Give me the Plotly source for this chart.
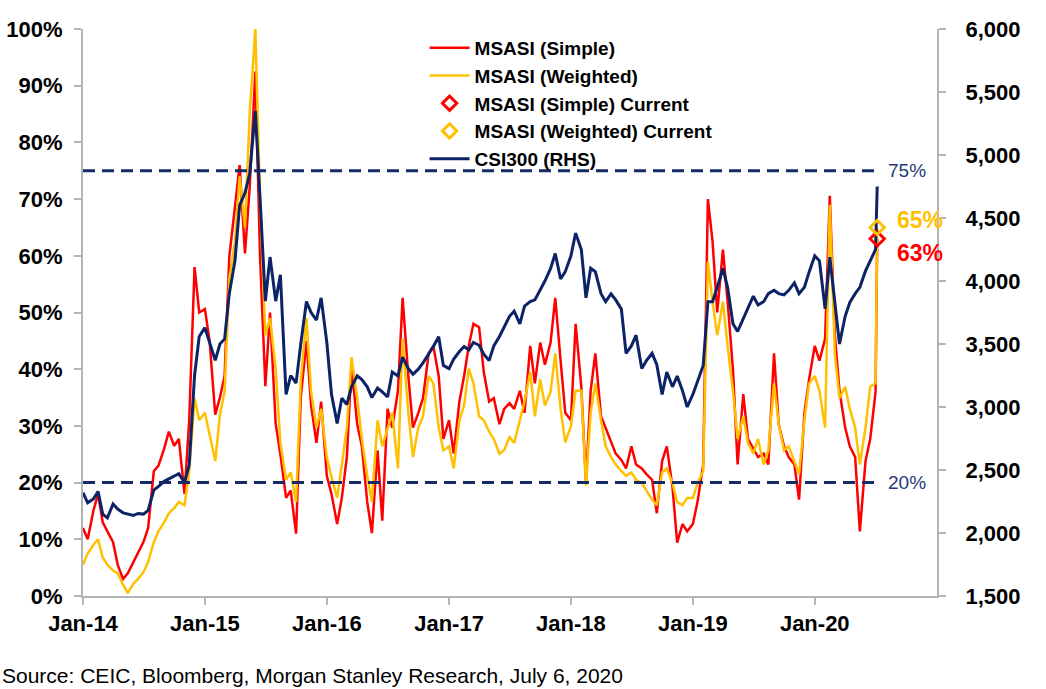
import pandas as pd
import plotly.graph_objects as go

# ---------------- data ----------------
# semi-monthly observations (1st & 15th) from Jan-2014 to Jul-2020, plus the "current" date
dates = list(pd.date_range("2014-01-01", "2020-07-01", freq="SMS").strftime("%Y-%m-%d")) + ["2020-07-06"]

csi300 = [
    2320, 2240, 2270, 2330, 2150, 2120, 2230, 2190, 2160, 2150, 2140, 2155,
    2150, 2180, 2340, 2370, 2410, 2430, 2450, 2470, 2400, 2540, 3250, 3560,
    3630, 3520, 3370, 3500, 3540, 3900, 4160, 4600, 4700, 4850, 5350, 4660,
    3840, 4190, 3840, 4050, 3100, 3250, 3190, 3500, 3837, 3750, 3690, 3866,
    3513, 3100, 2870, 3070, 3020, 3160, 3247, 3218, 3160, 3075, 3150, 3120,
    3080, 3278, 3246, 3395, 3305, 3260, 3300, 3350, 3420, 3480, 3557, 3330,
    3305, 3380, 3440, 3480, 3453, 3512, 3490, 3420, 3368, 3485, 3560, 3640,
    3720, 3760, 3660, 3800, 3836, 3850, 3926, 4000, 4100, 4218, 4016, 4074,
    4200, 4380, 4250, 3867, 4101, 4074, 3899, 3836, 3899, 3850, 3777, 3426,
    3485, 3570, 3305, 3368, 3426, 3336, 3100, 3278, 3160, 3246, 3130, 3000,
    3100, 3200, 3330, 3836, 3836, 3950, 4100, 3950, 3660, 3600, 3700, 3790,
    3880, 3810, 3836, 3900, 3926, 3900, 3890, 3926, 3985, 3900, 3950, 4070,
    4200, 4160, 3780, 4190, 3836, 3500, 3720, 3830, 3900, 3950, 4080, 4160,
    4250, 4750,
]

msasi_simple = [
    12, 10, 15, 18, 13, 11.5, 9.5, 5.5, 3, 4, 6, 7.5,
    9.5, 12, 22, 23, 26, 29, 26.5, 27.7, 18, 31, 58, 50,
    50.6, 45, 32, 35, 38.8, 59.8, 68.3, 76, 60.4, 72, 92.5, 60,
    37, 50, 30.3, 25, 17.3, 18.6, 11, 35, 45, 33.6, 27, 34.3,
    21.2, 18, 12.7, 17.3, 24.5, 40.8, 30.3, 26.4, 16.6, 11.1, 25.7, 13.3,
    33, 29.7, 36.2, 52.6, 38.8, 29.7, 32.3, 34.9, 42.8, 44.1, 38.8, 27.7,
    31, 25.1, 34.3, 38.8, 44.1, 48, 47.4, 39.5, 34.3, 34.9, 30.3, 33,
    34, 33, 36.2, 32.3, 44.1, 37.5, 44.7, 40.8, 44.7, 52.6, 41.5, 32.3,
    31, 48, 36.9, 19.9, 36.2, 42.8, 31.7, 29.7, 27.1, 25.1, 24, 22.5,
    26.4, 23.2, 22.5, 21.5, 20.5, 14.6, 23.8, 26.4, 19.2, 9.4, 12.7, 11.4,
    12.7, 16.6, 23.2, 70, 62.5, 50, 61.1, 52, 40, 23.2, 35.6, 27.7,
    26, 24.5, 25.1, 23.2, 42.8, 30.3, 26.4, 24.5, 23.2, 17, 32.3, 38.2,
    44.1, 41.5, 45.4, 70.6, 46, 36.2, 29.7, 26.4, 24.5, 11.4, 23.8, 27.7,
    36, 63,
]

msasi_weighted = [
    5.5, 7.5, 9, 10, 6.8, 5.5, 4.5, 4, 2, 0.5, 2.2, 3,
    4.2, 6, 9.5, 11.4, 13, 14.6, 15.5, 16.6, 16, 22, 34.9, 31,
    32.3, 28.4, 23.8, 32, 36, 55.9, 62.5, 74, 65, 85, 100, 70,
    46, 49, 40, 27, 20.5, 21.8, 16.6, 38, 49, 36, 29.7, 33,
    24.5, 21, 17.3, 23.2, 29.7, 42.1, 34.9, 27.7, 21.2, 16.6, 31, 26.4,
    29.7, 32.3, 22.5, 45.4, 32.3, 24.5, 29.7, 31.7, 38.8, 37.5, 29.7, 25.7,
    26.4, 22.5, 31, 33.6, 40.1, 37.5, 31.7, 31, 29, 27.7, 25.1, 25.7,
    28, 27, 31, 34.3, 39.5, 31.7, 38.2, 33.6, 36, 42.8, 33, 27.1,
    30, 36.2, 36.2, 19.5, 32.3, 37.5, 31, 26.4, 24.5, 23.2, 22, 21.2,
    21.8, 20.5, 19.9, 18.6, 17, 16, 21.8, 22.5, 19.9, 16.6, 16, 17.3,
    17.3, 19.9, 22, 59, 51.9, 46, 51.9, 44.1, 36.2, 27.7, 31.7, 27,
    25.1, 27.7, 23.2, 25.7, 37.5, 30.3, 25.7, 26.4, 23.8, 21.5, 31, 37.5,
    38.8, 36.2, 29.7, 69, 42.8, 34.9, 36.9, 33, 29.7, 23.2, 29.7, 36.9,
    37.5, 65,
]

current_date = "2020-07-06"
current_simple = 63
current_weighted = 65
threshold_levels = [75, 20]
threshold_labels = ["75%", "20%"]
threshold_end = "2020-07-04"

x_tick_dates = ["2014-01-01", "2015-01-01", "2016-01-01", "2017-01-01",
                "2018-01-01", "2019-01-01", "2020-01-01"]
x_tick_labels = ["Jan-14", "Jan-15", "Jan-16", "Jan-17", "Jan-18", "Jan-19", "Jan-20"]

source_text = "Source: CEIC, Bloomberg, Morgan Stanley Research, July 6, 2020"

assert len(dates) == len(csi300) == len(msasi_simple) == len(msasi_weighted), (
    len(dates), len(csi300), len(msasi_simple), len(msasi_weighted))

# ---------------- styling ----------------
RED = "#FF0000"
YELLOW = "#FFC000"
NAVY = "#0C2467"
DASH_NAVY = "#142B66"
AXIS_GREY = "#B4B4B4"
FONT = "Liberation Sans"

fig = go.Figure()

fig.add_trace(go.Scatter(x=dates, y=msasi_simple, mode="lines", name="MSASI (Simple)",
                         line=dict(color=RED, width=2.5), legendrank=1))
fig.add_trace(go.Scatter(x=dates, y=msasi_weighted, mode="lines", name="MSASI (Weighted)",
                         line=dict(color=YELLOW, width=2.5), legendrank=2))
fig.add_trace(go.Scatter(x=dates, y=csi300, mode="lines", name="CSI300 (RHS)",
                         line=dict(color=NAVY, width=3), yaxis="y2", legendrank=5))

for lvl in threshold_levels:
    fig.add_trace(go.Scatter(x=[dates[0], threshold_end], y=[lvl, lvl], mode="lines",
                             line=dict(color=DASH_NAVY, width=3, dash="12px,7px"),
                             yaxis="y3", showlegend=False, hoverinfo="skip"))

fig.add_trace(go.Scatter(x=[current_date], y=[current_simple], mode="markers",
                         name="MSASI (Simple) Current",
                         marker=dict(symbol="diamond-open", size=11, color=RED,
                                     line=dict(width=3, color=RED)),
                         yaxis="y3", legendrank=3))
fig.add_trace(go.Scatter(x=[current_date], y=[current_weighted], mode="markers",
                         name="MSASI (Weighted) Current",
                         marker=dict(symbol="diamond-open", size=11, color=YELLOW,
                                     line=dict(width=3, color=YELLOW)),
                         yaxis="y3", legendrank=4))

tickfont = dict(family=FONT, size=22, color="black", weight="bold")
axis_common = dict(showline=True, linecolor=AXIS_GREY, linewidth=2, ticks="outside",
                   ticklen=7, tickwidth=1.5, tickcolor=AXIS_GREY, showgrid=False,
                   zeroline=False, tickfont=tickfont, automargin=False)

annotations = []
for lvl, lab in zip(threshold_levels, threshold_labels):
    annotations.append(dict(x=0.940, xref="paper", y=lvl, yref="y", text=lab,
                            showarrow=False, xanchor="left", yanchor="middle",
                            font=dict(family=FONT, size=19, color="#1F3A78")))
annotations.append(dict(x=0.951, xref="paper", y=66.3, yref="y", text=f"{current_weighted}%",
                        showarrow=False, xanchor="left", yanchor="middle",
                        font=dict(family=FONT, size=23, color=YELLOW, weight="bold")))
annotations.append(dict(x=0.951, xref="paper", y=60.5, yref="y", text=f"{current_simple}%",
                        showarrow=False, xanchor="left", yanchor="middle",
                        font=dict(family=FONT, size=23, color=RED, weight="bold")))
annotations.append(dict(x=-0.097, xref="paper", y=-0.141, yref="paper", text=source_text,
                        showarrow=False, xanchor="left", yanchor="middle",
                        font=dict(family=FONT, size=21, color="black")))

fig.update_layout(
    width=1046, height=689,
    margin=dict(l=83, r=109, t=29, b=93, autoexpand=False),
    paper_bgcolor="white", plot_bgcolor="white",
    font=dict(family=FONT, color="black"),
    xaxis=dict(type="date", range=["2014-01-01", "2021-01-01"],
               tickvals=x_tick_dates, ticktext=x_tick_labels, **axis_common),
    yaxis=dict(range=[0, 100], dtick=10, ticksuffix="%", ticklabelstandoff=7, **axis_common),
    yaxis2=dict(range=[1500, 6000], dtick=500, tickformat=",", overlaying="y",
                side="right", ticklabelstandoff=15, **axis_common),
    yaxis3=dict(range=[0, 100], overlaying="y", visible=False),
    legend=dict(x=0.40, y=1.0, xanchor="left", yanchor="top", bgcolor="rgba(0,0,0,0)",
                font=dict(family=FONT, size=19, color="black", weight="bold"),
                tracegroupgap=0, itemwidth=40),
    annotations=annotations,
    showlegend=True,
)

fig.write_html("out.html", config={"displayModeBar": False},
               post_script="document.body.style.margin='0px';")
